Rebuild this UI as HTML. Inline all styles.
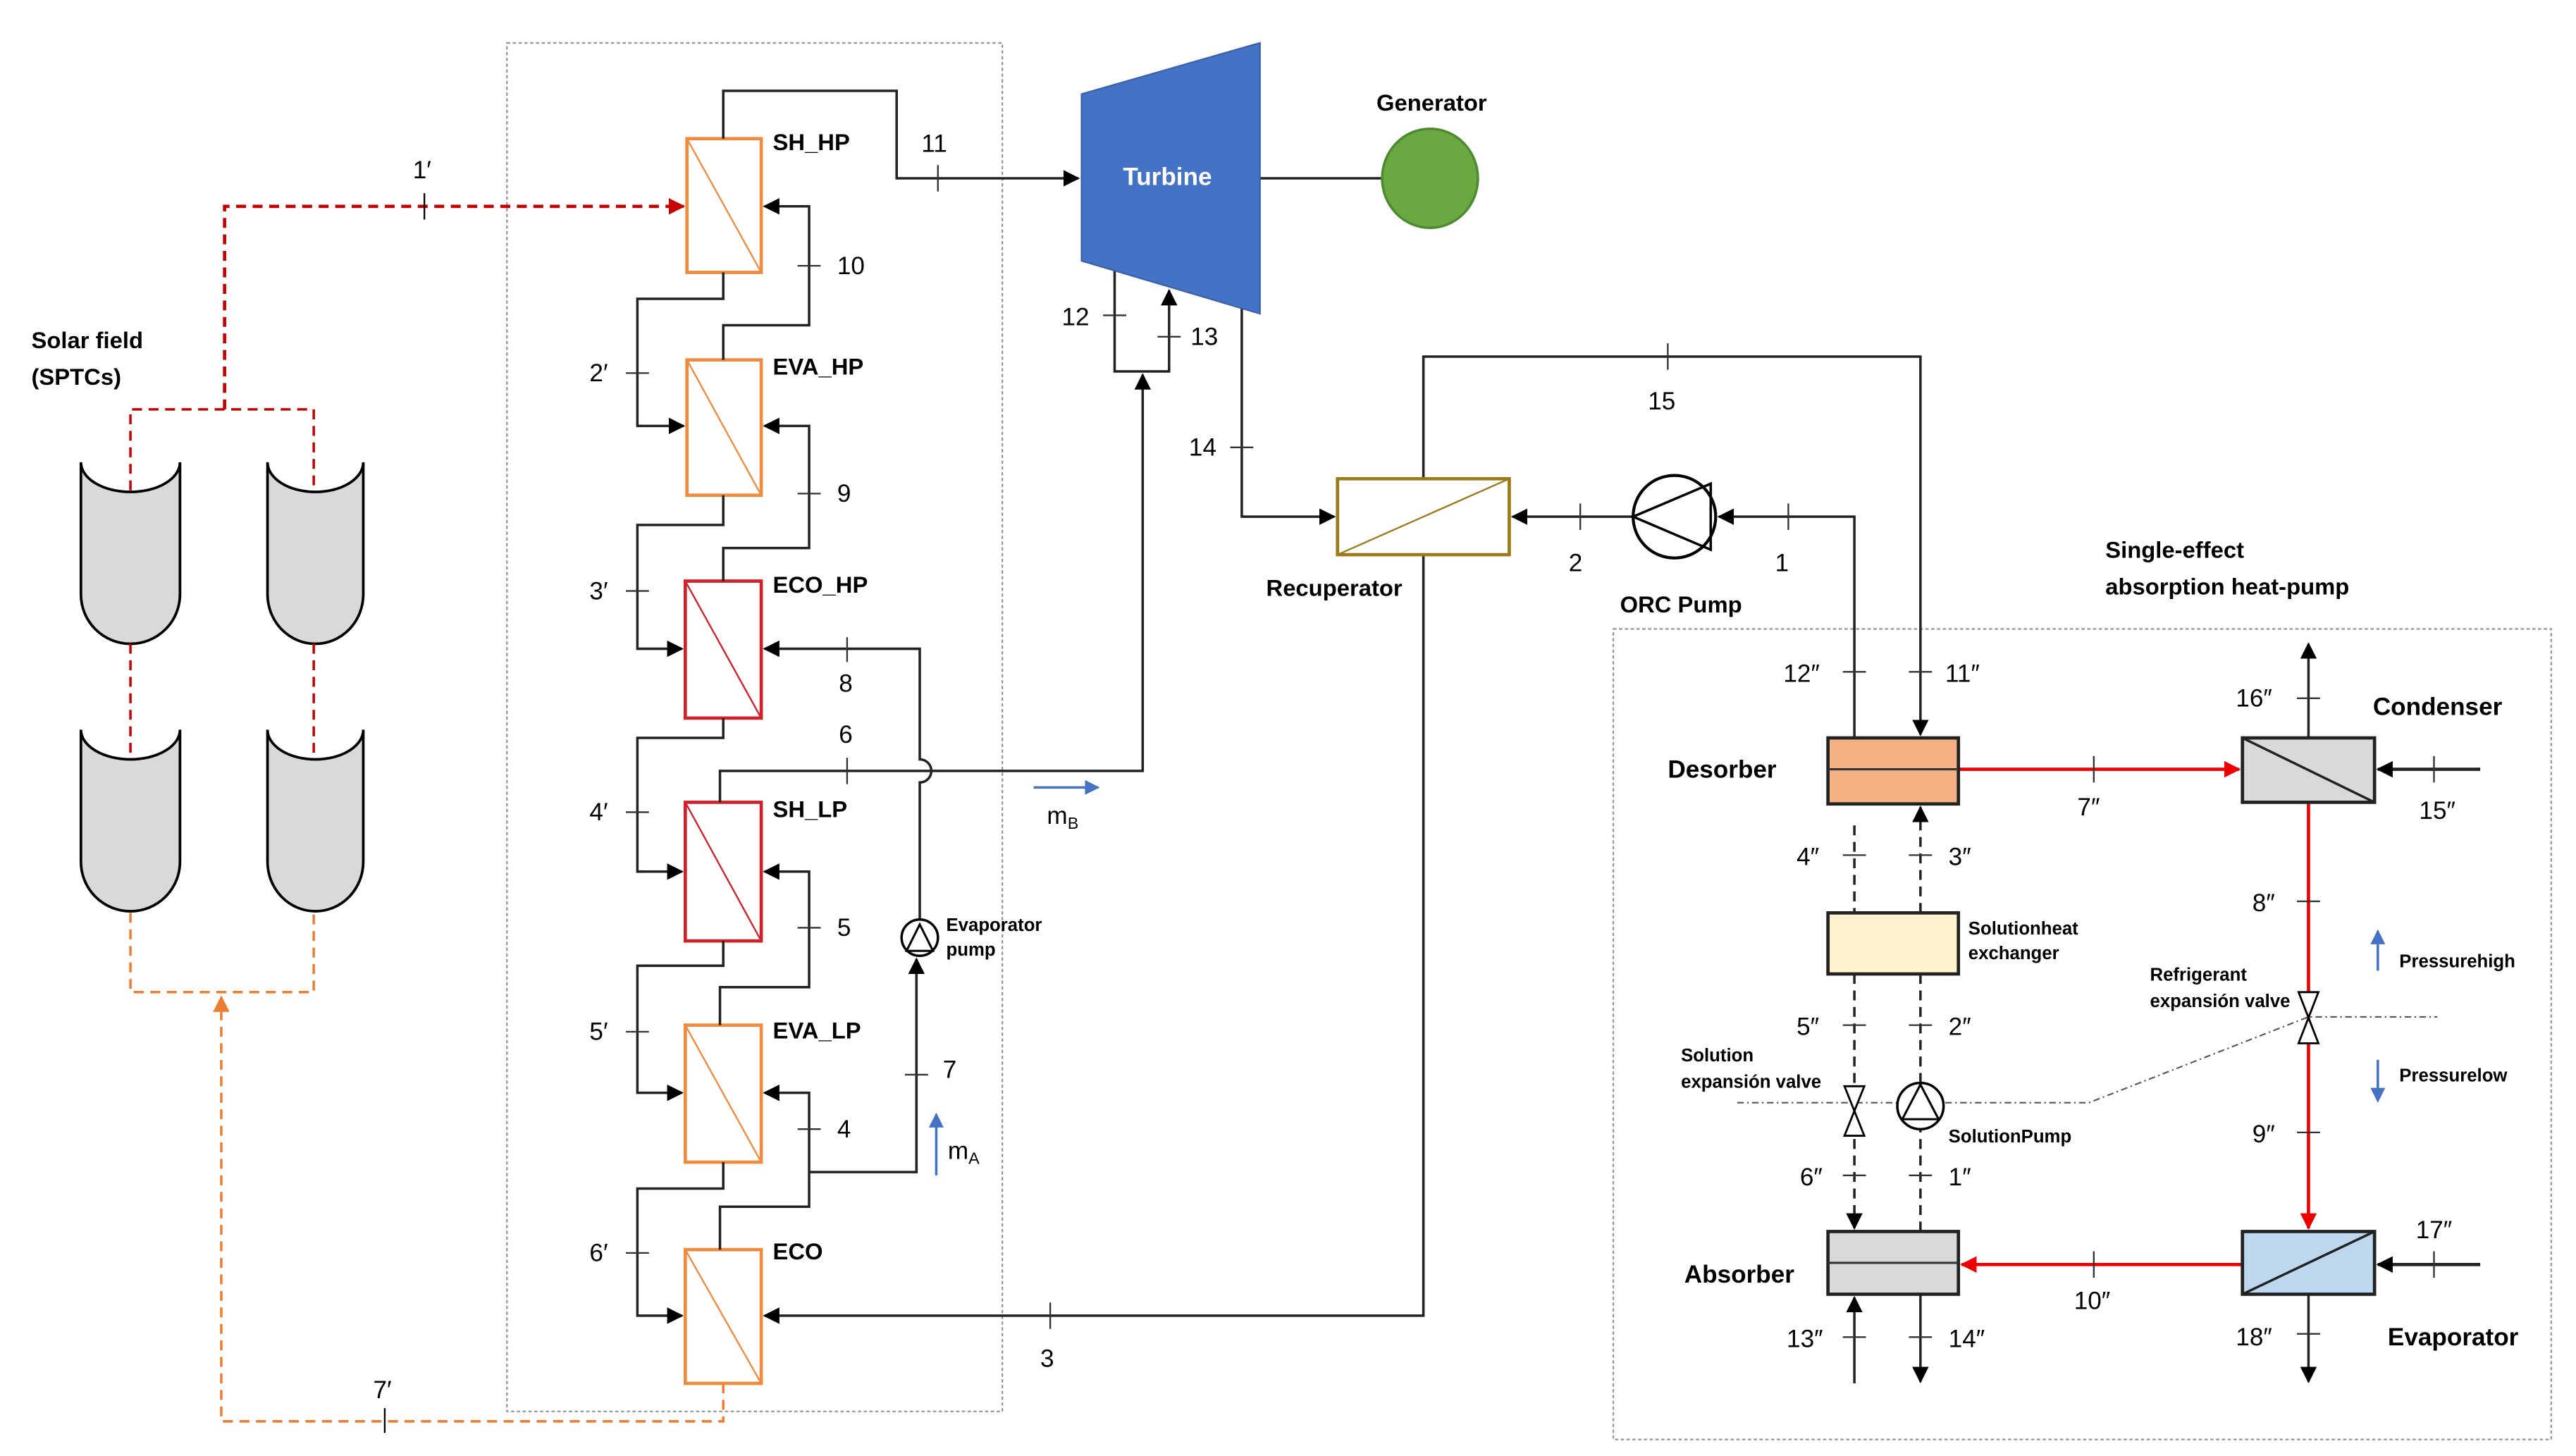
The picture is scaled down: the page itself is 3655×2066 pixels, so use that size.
<!DOCTYPE html>
<html><head><meta charset="utf-8"><style>
html,body{margin:0;padding:0;background:#fff;}
svg{display:block;}
text{font-family:"Liberation Sans",sans-serif;}
.b{font-weight:bold;font-size:14px;}
.n{font-size:15px;}
.s{font-weight:bold;font-size:11px;}
</style></head><body>
<svg width="3655" height="2066" viewBox="0 0 1560 882" preserveAspectRatio="none" xmlns="http://www.w3.org/2000/svg">
<defs>
<marker id="ak" markerWidth="10" markerHeight="10" refX="9" refY="5" orient="auto" markerUnits="userSpaceOnUse"><path d="M0,0 L10,5 L0,10 z" fill="#000"/></marker>
<marker id="ar" markerWidth="10" markerHeight="10" refX="9" refY="5" orient="auto" markerUnits="userSpaceOnUse"><path d="M0,0 L10,5 L0,10 z" fill="#e00"/></marker>
<marker id="ad" markerWidth="10" markerHeight="10" refX="9" refY="5" orient="auto" markerUnits="userSpaceOnUse"><path d="M0,0 L10,5 L0,10 z" fill="#c80000"/></marker>
<marker id="ao" markerWidth="10" markerHeight="10" refX="9" refY="5" orient="auto" markerUnits="userSpaceOnUse"><path d="M0,0 L10,5 L0,10 z" fill="#ed7d31"/></marker>
<marker id="ab" markerWidth="9" markerHeight="9" refX="8" refY="4.5" orient="auto" markerUnits="userSpaceOnUse"><path d="M0,0 L9,4.5 L0,9 z" fill="#4472c4"/></marker>
</defs>
<rect x="307" y="26" width="300" height="829" fill="none" stroke="#999" stroke-width="1" stroke-dasharray="2,1.5"/>
<rect x="977" y="381" width="568" height="491" fill="none" stroke="#999" stroke-width="1" stroke-dasharray="2,1.5"/>

<text class="b" x="19" y="211" font-size="15">Solar field</text>
<text class="b" x="19" y="233" font-size="15">(SPTCs)</text>
<g fill="#d9d9d9" stroke="#000" stroke-width="1.6">
<path d="M49,280 A30,18 0 0 0 109,280 L109,360 A30,30 0 0 1 49,360 Z"/>
<path d="M162,280 A29,18 0 0 0 220,280 L220,360 A29,30 0 0 1 162,360 Z"/>
<path d="M49,442 A30,18 0 0 0 109,442 L109,522 A30,30 0 0 1 49,522 Z"/>
<path d="M162,442 A29,18 0 0 0 220,442 L220,522 A29,30 0 0 1 162,522 Z"/>
</g>
<g fill="none" stroke="#c80000" stroke-width="1.5" stroke-dasharray="6,4">
<path d="M79,297 V248 H190 V297"/>
<path d="M79,390 V460"/><path d="M190,390 V460"/>
<path d="M136,248 V125 H414" marker-end="url(#ad)" stroke-width="2"/>
</g>
<line x1="257" y1="117" x2="257" y2="133" stroke="#000"/>
<text class="n" x="250" y="108">1′</text>
<g fill="none" stroke="#ed7d31" stroke-width="1.5" stroke-dasharray="6,4">
<path d="M79,553 V601 H190 V553"/>
<path d="M438,838 V861 H134 V604" marker-end="url(#ao)"/>
</g>
<line x1="233" y1="853" x2="233" y2="868" stroke="#000"/>
<text class="n" x="226" y="847">7′</text>

<g fill="#fff" stroke-width="2">
<rect x="416" y="84" width="45" height="81" stroke="#f08a3c"/>
<rect x="416" y="218" width="45" height="82" stroke="#f08a3c"/>
<rect x="415" y="352" width="46" height="83" stroke="#d0202a"/>
<rect x="415" y="486" width="46" height="84" stroke="#d0202a"/>
<rect x="415" y="621" width="46" height="83" stroke="#f08a3c"/>
<rect x="415" y="757" width="46" height="81" stroke="#f08a3c"/>
</g>
<g stroke-width="1">
<line x1="416" y1="84" x2="461" y2="165" stroke="#f08a3c"/>
<line x1="416" y1="218" x2="461" y2="300" stroke="#f08a3c"/>
<line x1="415" y1="352" x2="461" y2="435" stroke="#d0202a"/>
<line x1="415" y1="486" x2="461" y2="570" stroke="#d0202a"/>
<line x1="415" y1="621" x2="461" y2="704" stroke="#f08a3c"/>
<line x1="415" y1="757" x2="461" y2="838" stroke="#f08a3c"/>
</g>
<g class="b">
<text x="468" y="91">SH_HP</text>
<text x="468" y="227">EVA_HP</text>
<text x="468" y="359">ECO_HP</text>
<text x="468" y="495">SH_LP</text>
<text x="468" y="629">EVA_LP</text>
<text x="468" y="763">ECO</text>
</g>

<g fill="none" stroke="#222" stroke-width="1.5">
<path d="M438,84 V55 H543 V108 H653" marker-end="url(#ak)"/>
<path d="M438,165 V181 H386 V258 H414" marker-end="url(#ak)"/>
<path d="M438,300 V318 H386 V393 H413" marker-end="url(#ak)"/>
<path d="M438,435 V447 H386 V528 H413" marker-end="url(#ak)"/>
<path d="M438,570 V585 H386 V662 H413" marker-end="url(#ak)"/>
<path d="M438,704 V720 H386 V797 H413" marker-end="url(#ak)"/>
<path d="M438,218 V197 H490 V125 H463" marker-end="url(#ak)"/>
<path d="M438,352 V332 H490 V258 H463" marker-end="url(#ak)"/>
<path d="M436,486 V467 H692 V227" marker-end="url(#ak)"/>
<path d="M557,557 V474 A7,7 0 0 0 557,460 V393 H463" marker-end="url(#ak)"/>
<path d="M436,621 V598 H490 V528 H463" marker-end="url(#ak)"/>
<path d="M436,757 V731 H490 V662 H463" marker-end="url(#ak)"/>
<path d="M490,710 H555 V581" marker-end="url(#ak)"/>
<path d="M862,336 V797 H463" marker-end="url(#ak)"/>
<path d="M675,160 V225 H708 V176" marker-end="url(#ak)"/>
<path d="M752,185 V313 H808" marker-end="url(#ak)"/>
<path d="M763,108 H837"/>
<path d="M862,290 V216 H1163 V445" marker-end="url(#ak)"/>
<path d="M989,313 H916" marker-end="url(#ak)"/>
<path d="M1123,447 V313 H1041" marker-end="url(#ak)"/>
</g>
<g stroke="#333" stroke-width="1">
<line x1="568" y1="100" x2="568" y2="116"/>
<line x1="483" y1="161" x2="497" y2="161"/>
<line x1="483" y1="299" x2="497" y2="299"/>
<line x1="513" y1="386" x2="513" y2="401"/>
<line x1="513" y1="459" x2="513" y2="475"/>
<line x1="483" y1="562" x2="497" y2="562"/>
<line x1="483" y1="684" x2="497" y2="684"/>
<line x1="548" y1="651" x2="562" y2="651"/>
<line x1="379" y1="226" x2="393" y2="226"/>
<line x1="379" y1="358" x2="393" y2="358"/>
<line x1="379" y1="492" x2="393" y2="492"/>
<line x1="379" y1="625" x2="393" y2="625"/>
<line x1="379" y1="759" x2="393" y2="759"/>
<line x1="636" y1="789" x2="636" y2="805"/>
<line x1="668" y1="191" x2="682" y2="191"/>
<line x1="701" y1="204" x2="715" y2="204"/>
<line x1="745" y1="271" x2="759" y2="271"/>
<line x1="1010" y1="208" x2="1010" y2="224"/>
<line x1="957" y1="305" x2="957" y2="321"/>
<line x1="1083" y1="305" x2="1083" y2="321"/>
</g>
<g class="n">
<text x="558" y="92">11</text>
<text x="507" y="166">10</text>
<text x="507" y="304">9</text>
<text x="508" y="419">8</text>
<text x="508" y="450">6</text>
<text x="507" y="567">5</text>
<text x="507" y="689">4</text>
<text x="571" y="653">7</text>
<text x="630" y="828">3</text>
<text x="357" y="231">2′</text>
<text x="357" y="363">3′</text>
<text x="357" y="497">4′</text>
<text x="357" y="630">5′</text>
<text x="357" y="764">6′</text>
<text x="643" y="197">12</text>
<text x="721" y="209">13</text>
<text x="720" y="276">14</text>
<text x="998" y="248">15</text>
<text x="950" y="346">2</text>
<text x="1075" y="346">1</text>
</g>
<line x1="567" y1="712" x2="567" y2="675" stroke="#4472c4" stroke-width="1.5" marker-end="url(#ab)"/>
<text class="n" x="574" y="702">m<tspan font-size="10" dy="3">A</tspan></text>
<line x1="626" y1="477" x2="665" y2="477" stroke="#4472c4" stroke-width="1.5" marker-end="url(#ab)"/>
<text class="n" x="634" y="499">m<tspan font-size="10" dy="3">B</tspan></text>
<circle cx="557" cy="568" r="11" fill="#fff" stroke="#000" stroke-width="1.5"/>
<path d="M549,576 L557,560 L565,576 Z" fill="none" stroke="#000" stroke-width="1.3"/>
<text class="s" x="573" y="564">Evaporator</text>
<text class="s" x="573" y="579">pump</text>

<polygon points="655,57 763,26 763,190 655,158" fill="#4472c4" stroke="#3a62ad" stroke-width="1"/>
<text x="707" y="112" text-anchor="middle" fill="#fff" font-weight="bold" font-size="15">Turbine</text>
<ellipse cx="866" cy="108" rx="29" ry="30" fill="#6aa842" stroke="#4e8a30" stroke-width="1.5"/>
<text class="b" x="867" y="67" text-anchor="middle" font-size="15">Generator</text>

<rect x="810" y="290" width="104" height="46" fill="#fff" stroke="#9c7a1a" stroke-width="2"/>
<line x1="810" y1="336" x2="914" y2="290" stroke="#9c7a1a" stroke-width="1"/>
<text class="b" x="808" y="361" text-anchor="middle" font-size="15">Recuperator</text>
<circle cx="1014" cy="313" r="25" fill="#fff" stroke="#000" stroke-width="1.8"/>
<path d="M989,313 L1036,293 L1036,333 Z" fill="none" stroke="#000" stroke-width="1.5"/>
<text class="b" x="1018" y="371" text-anchor="middle" font-size="15">ORC Pump</text>
<text class="b" x="1275" y="338" font-size="15">Single-effect</text>
<text class="b" x="1275" y="360" font-size="15">absorption heat-pump</text>

<g fill="none" stroke-width="1.5">
<path d="M1123,500 V553" stroke="#222" stroke-dasharray="6,4"/>
<path d="M1163,553 V489" stroke="#222" stroke-dasharray="6,4" marker-end="url(#ak)"/>
<path d="M1123,590 V744" stroke="#222" stroke-dasharray="6,4" marker-end="url(#ak)"/>
<path d="M1163,590 V746" stroke="#222" stroke-dasharray="6,4"/>
<path d="M1186,466 H1356" stroke="#e00" stroke-width="2" marker-end="url(#ar)"/>
<path d="M1398,486 V744" stroke="#e00" stroke-width="2" marker-end="url(#ar)"/>
<path d="M1358,766 H1188" stroke="#e00" stroke-width="2" marker-end="url(#ar)"/>
<path d="M1398,447 V390" stroke="#222" marker-end="url(#ak)"/>
<path d="M1502,466 H1440" stroke="#222" stroke-width="2" marker-end="url(#ak)"/>
<path d="M1502,766 H1440" stroke="#222" stroke-width="2" marker-end="url(#ak)"/>
<path d="M1398,784 V837" stroke="#222" marker-end="url(#ak)"/>
<path d="M1123,838 V786" stroke="#222" marker-end="url(#ak)"/>
<path d="M1163,784 V837" stroke="#222" marker-end="url(#ak)"/>
<path d="M1052,668 H1265 L1398,616 H1476" stroke="#555" stroke-width="0.9" stroke-dasharray="4,2,1,2"/>
</g>
<rect x="1107" y="447" width="79" height="40" fill="#f4b183" stroke="#222" stroke-width="2"/>
<line x1="1107" y1="466" x2="1186" y2="466" stroke="#333" stroke-width="1.3"/>
<rect x="1107" y="553" width="79" height="37" fill="#fff2cc" stroke="#222" stroke-width="2"/>
<rect x="1107" y="746" width="79" height="38" fill="#d9d9d9" stroke="#222" stroke-width="2"/>
<line x1="1107" y1="765" x2="1186" y2="765" stroke="#333" stroke-width="1.3"/>
<rect x="1358" y="447" width="80" height="39" fill="#d9d9d9" stroke="#222" stroke-width="2"/>
<line x1="1358" y1="447" x2="1438" y2="486" stroke="#222" stroke-width="1.5"/>
<rect x="1358" y="746" width="80" height="38" fill="#bdd7ee" stroke="#222" stroke-width="2"/>
<line x1="1358" y1="784" x2="1438" y2="746" stroke="#222" stroke-width="1.5"/>
<path d="M1117,658 H1129 L1117,688 H1129 Z" fill="#fff" stroke="#000" stroke-width="1.2"/>
<path d="M1392,601 H1404 L1392,632 H1404 Z" fill="#fff" stroke="#000" stroke-width="1.2"/>
<circle cx="1163" cy="670" r="14" fill="#fff" stroke="#000" stroke-width="1.5"/>
<path d="M1152,678 L1163,657 L1174,678 Z" fill="none" stroke="#000" stroke-width="1.3"/>
<g stroke="#333" stroke-width="1">
<line x1="1116" y1="407" x2="1130" y2="407"/><line x1="1156" y1="407" x2="1170" y2="407"/>
<line x1="1391" y1="423" x2="1405" y2="423"/>
<line x1="1474" y1="458" x2="1474" y2="474"/>
<line x1="1268" y1="458" x2="1268" y2="474"/>
<line x1="1116" y1="518" x2="1130" y2="518"/><line x1="1156" y1="518" x2="1170" y2="518"/>
<line x1="1391" y1="546" x2="1405" y2="546"/>
<line x1="1116" y1="621" x2="1130" y2="621"/><line x1="1156" y1="621" x2="1170" y2="621"/>
<line x1="1391" y1="686" x2="1405" y2="686"/>
<line x1="1116" y1="712" x2="1130" y2="712"/><line x1="1156" y1="712" x2="1170" y2="712"/>
<line x1="1268" y1="758" x2="1268" y2="774"/>
<line x1="1474" y1="758" x2="1474" y2="774"/>
<line x1="1116" y1="810" x2="1130" y2="810"/><line x1="1156" y1="810" x2="1170" y2="810"/>
<line x1="1391" y1="808" x2="1405" y2="808"/>
</g>
<g class="n">
<text x="1080" y="413">12″</text><text x="1178" y="413">11″</text>
<text x="1354" y="428">16″</text>
<text x="1465" y="496">15″</text>
<text x="1258" y="494">7″</text>
<text x="1088" y="524">4″</text><text x="1180" y="524">3″</text>
<text x="1364" y="552">8″</text>
<text x="1088" y="627">5″</text><text x="1180" y="627">2″</text>
<text x="1364" y="692">9″</text>
<text x="1090" y="718">6″</text><text x="1180" y="718">1″</text>
<text x="1463" y="750">17″</text>
<text x="1256" y="793">10″</text>
<text x="1082" y="816">13″</text><text x="1180" y="816">14″</text>
<text x="1354" y="815">18″</text>
</g>
<g class="b" font-size="15">
<text x="1010" y="471" font-size="15">Desorber</text>
<text x="1437" y="433" font-size="15">Condenser</text>
<text x="1020" y="777" font-size="15">Absorber</text>
<text x="1446" y="815" font-size="15">Evaporator</text>
</g>
<g class="s">
<text x="1192" y="566">Solutionheat</text>
<text x="1192" y="581">exchanger</text>
<text x="1302" y="594">Refrigerant</text>
<text x="1302" y="610">expansión valve</text>
<text x="1018" y="643">Solution</text>
<text x="1018" y="659">expansión valve</text>
<text x="1180" y="692">SolutionPump</text>
<text x="1453" y="586">Pressurehigh</text>
<text x="1453" y="655">Pressurelow</text>
</g>
<line x1="1440" y1="588" x2="1440" y2="564" stroke="#4472c4" stroke-width="1.5" marker-end="url(#ab)"/>
<line x1="1440" y1="642" x2="1440" y2="667" stroke="#4472c4" stroke-width="1.5" marker-end="url(#ab)"/>
</svg>
</body></html>
